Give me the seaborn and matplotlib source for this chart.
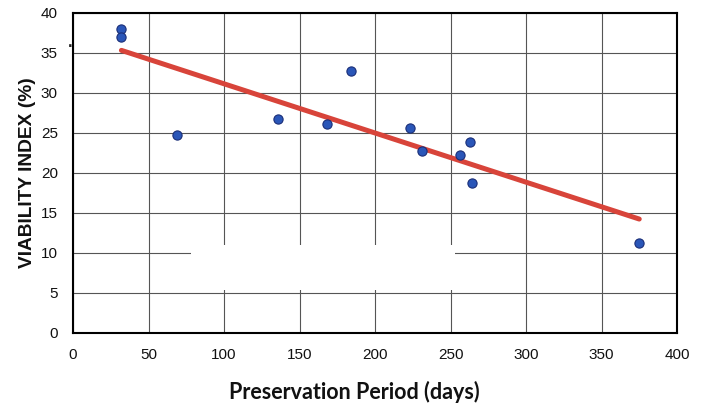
import numpy as np
import pandas as pd
import matplotlib
matplotlib.use("Agg")
import matplotlib.pyplot as plt
from matplotlib.patches import Rectangle
import seaborn as sns

sns.set_style("white")
plt.rcParams['font.family'] = ['Liberation Sans', 'DejaVu Sans']

# preservation period (days) vs viability index (%)
days = [32, 32, 69, 136, 168, 184, 223, 231, 256, 263, 264, 375]
viability = [38.0, 37.0, 24.8, 26.8, 26.1, 32.8, 25.6, 22.8, 22.3, 23.9, 18.8, 11.3]

df = pd.DataFrame({"days": days, "viability": viability})

fig = plt.figure(figsize=(7.03, 4.05), dpi=100)
ax = fig.add_axes([0.104, 0.178, 0.859, 0.79])

# trend line
sns.regplot(data=df, x="days", y="viability", ax=ax, ci=None, scatter=False,
            line_kws={"color": "#d8443a", "lw": 3.6, "solid_capstyle": "round",
                      "zorder": 3})
# data points
sns.scatterplot(data=df, x="days", y="viability", ax=ax, s=44,
                color="#2a56b8", edgecolor="#1b2f78", linewidth=0.8, zorder=4)

ax.set_xlim(0, 400)
ax.set_ylim(0, 40)
ax.set_xticks(np.arange(0, 401, 50))
ax.set_yticks(np.arange(0, 41, 5))
ax.grid(True, color="#555555", lw=0.8)
ax.set_axisbelow(True)
for s in ax.spines.values():
    s.set_color("black")
    s.set_linewidth(1.5)
ax.tick_params(axis="both", direction="out", length=5, width=1, color="black",
               labelsize=11, labelcolor="#111111", pad=6)

# blank patch covering part of the grid (as in the scanned figure)
ax.add_patch(Rectangle((78, 5.4), 175, 5.6, facecolor="white", edgecolor="none",
                       zorder=1.5))

ax.set_xlabel("Preservation Period (days)", fontsize=15.5, fontweight="bold",
              family=["Lato", "DejaVu Sans"], color="#111111")
ax.xaxis.set_label_coords(0.465, -0.15)
ax.set_ylabel("VIABILITY INDEX (%)", fontsize=13.8, fontweight="bold",
              color="#111111")
ax.yaxis.set_label_coords(-0.062, 0.5)
fig.text(0.097, 0.885, ".", fontsize=12, fontweight="bold")

fig.savefig("out.png", dpi=100)
